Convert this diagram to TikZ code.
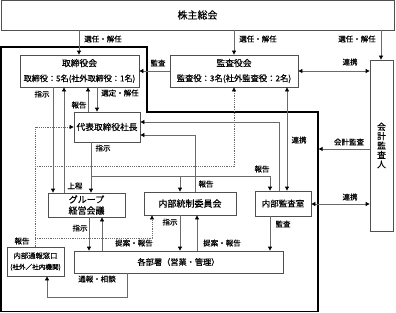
\documentclass[tikz,border=0pt]{standalone}
\usepackage{fontspec}
\setmainfont{Noto Sans CJK JP}[FakeBold=0.45]
\usetikzlibrary{arrows.meta}
\definecolor{boxc}{HTML}{505050}
\definecolor{linec}{HTML}{6A6A6A}
\begin{document}
\begin{tikzpicture}[x=1pt,y=-1pt,
  box/.style={draw=boxc, line width=0.8pt, inner sep=0pt, align=center, fill=white},
  arr/.style={draw=linec, line width=0.8pt, -{Triangle[length=4pt,width=4pt,color=black]}},
  darr/.style={draw=linec, line width=0.8pt, {Triangle[length=4pt,width=4pt,color=black]}-{Triangle[length=4pt,width=4pt,color=black]}},
  dotarr/.style={draw=linec, line width=0.7pt, dash pattern=on 1.2pt off 1pt, -{Triangle[length=4pt,width=4pt,color=black]}},
  lbl/.style={font=\fontsize{7.5}{8}\selectfont, inner sep=0pt},
  frameline/.style={line width=1.3pt, draw=black}]
\useasboundingbox (0,0) rectangle (396,313);

% outer company frame
\draw[frameline] (1,47) -- (147,47) -- (147,112) -- (318,112) -- (318,311.5) -- (1,311.5) -- cycle;

% boxes
\node[box, minimum width=393pt, minimum height=30pt, font=\fontsize{10}{12}\selectfont] (kabu) at (197.5,15) {株主総会};
\node[box, minimum width=119pt, minimum height=32pt, font=\fontsize{8.8}{15}\selectfont] (tori) at (79.5,71) {取締役会\\{\fontsize{8.1}{10}\selectfont 取締役：5名(社外取締役：1名)}};
\node[box, minimum width=128pt, minimum height=32pt, font=\fontsize{8.8}{15}\selectfont] (kansa) at (234,71) {監査役会\\{\fontsize{8.3}{10}\selectfont 監査役：3名(社外監査役：2名)}};
\node[box, minimum width=23pt, minimum height=171pt, font=\fontsize{8.8}{9.4}\selectfont] (kaikei) at (381.5,145.5) {会\\計\\監\\査\\人};
\node[box, minimum width=66pt, minimum height=30pt, font=\fontsize{8.7}{10}\selectfont] (shacho) at (107,127) {代表取締役社長};
\node[box, minimum width=77pt, minimum height=24pt, font=\fontsize{9}{11}\selectfont] (group) at (86.5,205) {グループ\\経営会議};
\node[box, minimum width=92pt, minimum height=23pt, font=\fontsize{9}{11}\selectfont] (tosei) at (190,203.5) {内部統制委員会};
\node[box, minimum width=56pt, minimum height=25pt, font=\fontsize{8.5}{10}\selectfont] (naikan) at (283,203.5) {内部監査室};
\node[box, minimum width=209pt, minimum height=22pt, font=\fontsize{8.2}{10}\selectfont] (kakubu) at (178.5,262) {各部署（営業・管理）};
\node[box, minimum width=57pt, minimum height=29pt, font=\fontsize{7.3}{11}\selectfont] (tsuho) at (35.5,261.5) {内部通報窓口\\{\fontsize{6.6}{8}\selectfont (社外／社内機関)}};

% shareholders
\draw[arr] (kabu.south -| 79,0) -- (tori.north -| 79,0);
\node[lbl] (l1) at (103,39) {選任・解任};
\draw[arr] (kabu.south -| 234,0) -- (kansa.north -| 234,0);
\node[lbl] (l2) at (258,39) {選任・解任};
\draw[arr] (kabu.south -| 381,0) -- (kaikei.north -| 381,0);
\node[lbl] (l3) at (357,39) {選任・解任};

% audit board
\draw[arr] (kansa.west) -- (tori.east);
\node[lbl] (l4) at (158,63) {監査};
\draw[darr] (kansa.east) -- (kaikei.west |- kansa.east);
\node[lbl] (l5) at (350,62) {連携};

% board <-> president / group
\draw[arr] (tori.south -| 53,0) -- (group.north -| 53,0);
\node[lbl] (l6) at (42,94) {指示};
\draw[arr] (group.north -| 64,0) -- (tori.south -| 64,0);
\node[lbl] (l7) at (75,186) {上程};
\draw[arr] (shacho.north -| 88,0) -- (tori.south -| 88,0);
\node[lbl] (l8) at (79,105) {報告};
\draw[arr] (tori.south -| 97,0) -- (shacho.north -| 97,0);
\node[lbl] (l9) at (120,93) {選定・解任};

% president instructions
\draw[arr] (shacho.south -| 91,0) -- (group.north -| 91,0);
\node[lbl] (l10) at (103,148) {指示};
\coordinate (br1) at (91,176);
\coordinate (br2) at (180,176);
\draw[arr] (br1) -| (naikan.north -| 270,0);
\draw[arr] (br2) -- (tosei.north -| 180,0);

% reports to president
\draw[arr] (tosei.north -| 195,0) |- (shacho.east |- 0,135);
\node[lbl] (l11) at (206,184) {報告};
\draw[arr] (naikan.north -| 279,0) |- (shacho.east |- 0,122);
\node[lbl] (l12) at (262,169) {報告};

% audit board <-> internal audit
\draw[darr] (kansa.south -| 287,0) -- (naikan.north -| 287,0);
\node[lbl] (l13) at (299,140) {連携};

% accounting auditor
\coordinate (fr) at (318.7,149);
\draw[arr] (kaikei.west |- 0,149) -- (fr);
\node[lbl] (l14) at (349,142) {会計監査};
\draw[darr] (naikan.east |- 0,204) -- (kaikei.west |- 0,204);
\node[lbl] (l15) at (350,197) {連携};

% whistleblowing (dotted)
\draw[dotarr] (tsuho.north -| 35,0) |- (shacho.west);
\coordinate (d1) at (35,166);
\coordinate (d2) at (35,238);
\draw[dotarr] (d1) -| (kansa.south -| 234,0);
\draw[dotarr] (d2) -| (tosei.south -| 152,0);
\node[lbl] (l16) at (22,241) {報告};

% departments
\draw[arr] (group.south -| 89,0) -- (kakubu.north -| 89,0);
\node[lbl] (l17) at (80,228) {指示};
\draw[arr] (kakubu.north -| 102,0) -- (group.south -| 102,0);
\node[lbl] (l18) at (134,243) {提案・報告};
\draw[arr] (tosei.south -| 180,0) -- (kakubu.north -| 180,0);
\node[lbl] (l19) at (170,222) {指示};
\draw[arr] (kakubu.north -| 197,0) -- (tosei.south -| 197,0);
\node[lbl] (l20) at (222,243) {提案・報告};
\draw[arr] (naikan.south -| 270,0) -- (kakubu.north -| 270,0);
\node[lbl] (l21) at (283,224) {監査};
\coordinate (c1) at (127,297);
\draw[arr] (kakubu.south -| 127,0) -- (c1) -| (tsuho.south -| 47,0);
\node[lbl] (l22) at (97,279) {通報・相談};
\end{tikzpicture}
\end{document}
